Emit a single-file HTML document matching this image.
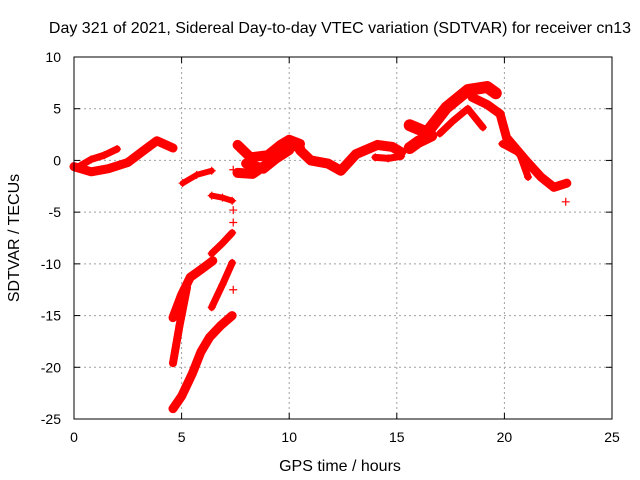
<!DOCTYPE html>
<html><head><meta charset="utf-8"><style>
body{margin:0;background:#fff}
svg{display:block;font-family:"Liberation Sans",sans-serif}
</style></head><body>
<svg id="chart" width="640" height="480">
<text x="340" y="33" font-size="16" text-anchor="middle">Day 321 of 2021, Sidereal Day-to-day VTEC variation (SDTVAR) for receiver cn13</text>
<text x="340" y="471" font-size="16" text-anchor="middle">GPS time / hours</text>
<text transform="translate(19,238) rotate(-90)" font-size="16" text-anchor="middle">SDTVAR / TECUs</text>
<g id="grid"></g><g id="marks"></g><g id="axes"></g>
</svg>
<script>
const xTicks=[0,5,10,15,20,25];
const yTicks=[10,5,0,-5,-10,-15,-20,-25];
// series: each an array of [hour, value]
const sA=[[0.3,-0.5],[0.8,0.1],[1.4,0.5],[2.0,1.1]];
const sB=[[0,-0.6],[0.8,-1.1],[1.6,-0.8],[2.5,-0.2],[3.2,0.9],[3.85,1.9],[4.6,1.2]];
const sC=[[5.05,-2.2],[5.7,-1.4],[6.4,-1.0]];
const sD=[[6.4,-3.4],[6.9,-3.6],[7.35,-3.9]];
const sE=[[6.4,-9.0],[6.9,-8.0],[7.35,-7.0]];
const sF=[[4.6,-15.2],[5.0,-13.0],[5.4,-11.3],[6.0,-10.4],[6.45,-9.7]];
const sG=[[4.6,-19.6],[4.9,-16],[5.25,-12.3]];
const sH=[[6.4,-14.2],[6.9,-12],[7.35,-9.9]];
const sI=[[4.6,-24],[5.0,-22.8],[5.5,-20.6],[5.9,-18.5],[6.3,-17.1],[6.8,-16],[7.35,-15]];
const sJ=[[7.6,1.5],[8.2,0.3],[9.0,0.5],[9.6,1.5],[10.0,2.0],[10.5,1.6]];
const sK=[[7.6,-1.2],[8.3,-1.3],[9.0,-0.3],[9.6,1.0],[10.0,1.6],[10.5,1.2]];
const sK2=[[8.0,-0.3],[8.8,-0.8],[9.4,0.2],[10.0,1.0]];
const sL=[[10.5,1.0],[11.0,0.0],[11.8,-0.3],[12.4,-1.0],[13.1,0.6],[14.1,1.5],[14.8,1.3],[15.2,0.8]];
const sM=[[14.0,0.3],[14.6,0.2],[15.2,0.4]];
const sN=[[15.6,3.4],[16.4,2.7],[17.3,5.1],[18.3,6.8],[19.2,7.1],[19.6,6.5]];
const sN2=[[15.6,1.2],[16.0,1.8],[16.6,2.4]];
const sO=[[17.0,2.6],[17.6,3.8],[18.3,5.0],[19.0,3.2]];
const sP=[[18.5,6.1],[19.2,5.4],[19.8,4.5],[20.1,2.2],[21.0,0.0],[21.7,-1.6],[22.3,-2.6],[22.9,-2.2]];
const sQ=[[19.9,1.6],[20.7,0.7],[21.1,-1.6]];
const singles=[[7.4,-0.9],[7.4,-4.8],[7.4,-6.0],[7.4,-12.5],[22.85,-4.0]];
const seriesList=[sA,sB,sC,sD,sE,sF,sG,sH,sI,sJ,sK,sK2,sL,sM,sN,sN2,sO,sP,sQ];
const seriesNames=['early-upper','early-lower','dip-1','dip-2','diag-upper','curve-mid','steep','diag-right','curve-low','mid-upper','mid-lower','mid-center','afternoon','afternoon-lower','peak-upper','peak-base','peak-lower','decline','decline-lower'];
const seriesWidth=[7,9,6,6,7,9,8,7,9,10,10,10,10,7,12,12,7,9,7];

const X0=74,X1=612,Y0=57,Y1=419;
const xs=h=>X0+(h-0)/(25-0)*(X1-X0);
const ys=v=>Y0+(10-v)/(10-(-25))*(Y1-Y0);
const NS='http://www.w3.org/2000/svg';
function mk(tag,attrs,parent){const e=document.createElementNS(NS,tag);for(const k in attrs)e.setAttribute(k,attrs[k]);parent.appendChild(e);return e;}
const grid=document.getElementById('grid'),marks=document.getElementById('marks'),axes=document.getElementById('axes');
xTicks.forEach(t=>{
  const x=xs(t);
  if(t>0&&t<25){const g=mk('line',{x1:x,x2:x,y1:Y0,y2:Y1,stroke:'#a0a0a0','stroke-dasharray':'2,3'},grid);
  
  }
  mk('line',{x1:x,x2:x,y1:Y1,y2:Y1-6,stroke:'#000'},axes);
  mk('line',{x1:x,x2:x,y1:Y0,y2:Y0+6,stroke:'#000'},axes);
  const tx=mk('text',{x:x,y:Y1+23,'font-size':14,'text-anchor':'middle'},axes);tx.textContent=t;
  
  
});
yTicks.forEach(t=>{
  const y=ys(t);
  if(t<10&&t>-25){const g=mk('line',{x1:X0,x2:X1,y1:y,y2:y,stroke:'#a0a0a0','stroke-dasharray':'2,3'},grid);
  
  }
  mk('line',{x1:X0,x2:X0+6,y1:y,y2:y,stroke:'#000'},axes);
  mk('line',{x1:X1,x2:X1-6,y1:y,y2:y,stroke:'#000'},axes);
  const tx=mk('text',{x:X0-13,y:y+5,'font-size':14,'text-anchor':'end'},axes);tx.textContent=t;
  
  
});
const fr=mk('rect',{x:X0,y:Y0,width:X1-X0,height:Y1-Y0,fill:'none',stroke:'#000'},axes);


function plus(h,v,parent){const x=xs(h),y=ys(v);mk('path',{d:`M${x-4},${y}H${x+4}M${x},${y-4}V${y+4}`,stroke:'#f00','stroke-width':1.2},parent);}
seriesList.forEach((s,i)=>{
  const g=mk('g',{},marks);
  
  
  mk('polyline',{points:s.map(p=>xs(p[0])+','+ys(p[1])).join(' '),fill:'none',stroke:'#f00','stroke-width':seriesWidth[i],'stroke-linejoin':'round','stroke-linecap':'round'},g);
  s.forEach(p=>plus(p[0],p[1],g));
});
const sg=mk('g',{},marks);


singles.forEach(p=>plus(p[0],p[1],sg));
</script>
</body></html>
